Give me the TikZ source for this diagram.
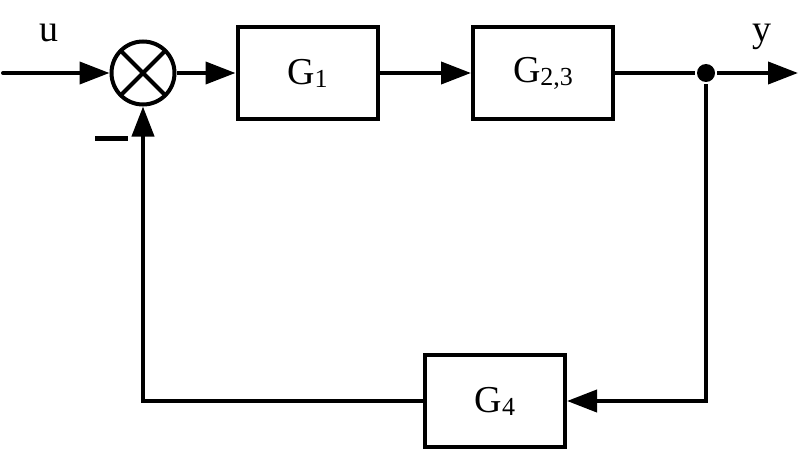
\documentclass[tikz,border=0pt]{standalone}
\usepackage{fontspec}
\setmainfont{Liberation Serif}
\usetikzlibrary{arrows.meta}
\newcommand\sbs[1]{{\fontsize{26}{26}\selectfont\raisebox{-3pt}{#1}}}
\begin{document}
\begin{tikzpicture}[x=1pt,y=-1pt, line width=4pt,
  blk/.style={draw, rectangle, minimum width=140pt, minimum height=92pt, inner sep=0pt, font=\fontsize{38}{40}\selectfont},
  lbl/.style={font=\fontsize{38}{40}\selectfont, inner sep=0pt},
  sumnode/.style={draw, circle, minimum size=63pt, inner sep=0pt},
  arr/.style={-{Triangle[length=30pt,width=22pt]}}]
\useasboundingbox (0,0) rectangle (800,452);
\node[sumnode] (s) at (143,73) {};
\draw ([shift={(45:31)}]s.center) -- ([shift={(225:31)}]s.center);
\draw ([shift={(135:31)}]s.center) -- ([shift={(315:31)}]s.center);
\node[blk] (g1) at (307.5,73) {G\sbs{1}};
\node[blk] (g23) at (543,73) {G\sbs{2,3}};
\node[blk] (g4) at (495,401) {G\sbs{4}};
\node[circle, fill, inner sep=0pt, minimum size=18pt] (d) at (706,73) {};
\coordinate (in) at (3,73);
\coordinate (out) at (798,73);
\node[lbl] (u) at (49,33) {u};
\node[lbl] (y) at (762,37) {y};
\draw[line width=5pt] (95,138) -- (128,138);
\draw[arr, line cap=round] (in) -- (s);
\draw[arr] (s) -- (g1);
\draw[arr] (g1) -- (g23);
\draw (g23) -- (d);
\draw[arr] (d) -- (out);
\draw[arr] (d) |- (g4);
\draw[arr] (g4) -| (s);
\end{tikzpicture}
\end{document}
